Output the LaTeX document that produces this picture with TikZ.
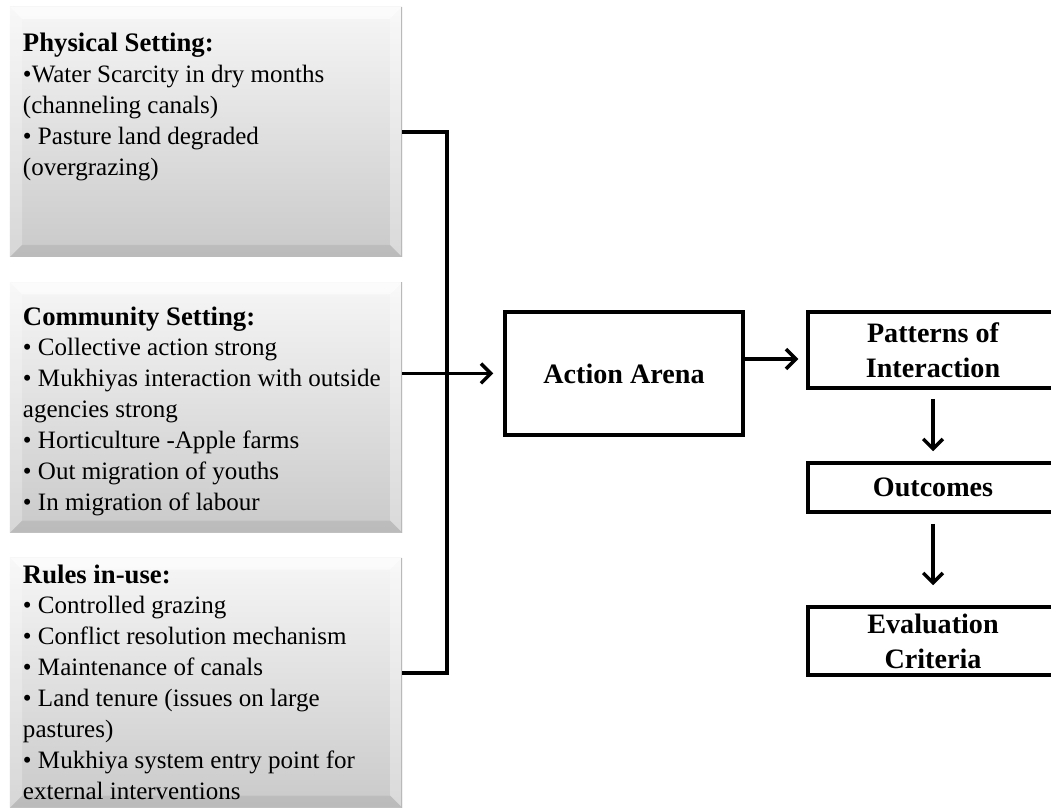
\documentclass[tikz,border=0pt]{standalone}
\usepackage{fontspec}
\setmainfont{Liberation Serif}
\usetikzlibrary{arrows.meta,calc}
\tikzset {>={Straight Barb[length=7pt,width=14pt]}}

\begin{document}
\begin{tikzpicture}[
  setting/.style={rectangle, minimum width=9.8cm, minimum height=6.25cm,
    top color=gray!7, bottom color=gray!42, inner sep=0pt,
    path picture={
      \coordinate (nw) at (path picture bounding box.north west);
      \coordinate (se) at (path picture bounding box.south east);
      \fill[white,opacity=.6] (nw) -- (nw -| se) -- ($(nw -| se)+(-.3,-.3)$) -- ($(nw)+(.3,-.3)$) -- cycle;
      \fill[white,opacity=.25] (nw) -- ($(nw)+(.3,-.3)$) -- ($(nw |- se)+(.3,.3)$) -- (nw |- se) -- cycle;
      \fill[white,opacity=.3] (nw -| se) -- (se) -- ($(se)+(-.3,.3)$) -- ($(nw -| se)+(-.3,-.3)$) -- cycle;
      \fill[black,opacity=.07] (se) -- (nw |- se) -- ($(nw |- se)+(.3,.3)$) -- ($(se)+(-.3,.3)$) -- cycle;
      \draw[gray!55,line width=1pt] (nw -| se) -- (se);
    }},
  items/.style={anchor=north west, inner sep=0pt, align=left,
    font=\fontsize{17.8}{22}\selectfont},
  stage/.style={draw, line width=2.5pt, align=center,
    font=\fontsize{20}{25}\selectfont\bfseries},
  conn/.style={line width=2.5pt}
]
\useasboundingbox (0,0) rectangle (26.275,20.2);

% Left column: settings
\node [setting] (phys)  at (5.15,16.9)    {};
\node [setting] (comm)  at (5.15,10.0125) {};
\node [setting] (rules) at (5.15,3.1375)  {};

\node [items] (phystext) at ($(phys.north west)+(.325,-.65)$)
  {{\fontsize{19}{22}\selectfont\bfseries Physical Setting:}\\
   •Water Scarcity in dry months\\
   (channeling canals)\\
   • Pasture land degraded\\
   (overgrazing)};
\node [items] (commtext) at ($(comm.north west)+(.325,-.6)$)
  {{\fontsize{19}{22}\selectfont\bfseries Community Setting:}\\
   • Collective action strong\\
   • Mukhiyas interaction with outside\\
   agencies strong\\
   • Horticulture -Apple farms\\
   • Out migration of youths\\
   • In migration of labour};
\node [items] (rulestext) at ($(rules.north west)+(.325,-.175)$)
  {{\fontsize{19}{22}\selectfont\bfseries Rules in-use:}\\
   • Controlled grazing\\
   • Conflict resolution mechanism\\
   • Maintenance of canals\\
   • Land tenure (issues on large\\
   pastures)\\
   • Mukhiya system entry point for\\
   external interventions};

% Right side: stages
\node [stage, minimum width=5.95cm, minimum height=3.075cm] (action)   at (15.6,10.8625)   {Action Arena};
\node [stage, minimum width=6.25cm, minimum height=1.9cm]   (patterns) at (23.325,11.45)   {Patterns of\\Interaction};
\node [stage, minimum width=6.25cm, minimum height=1.225cm] (outcomes) at (23.325,8.0125)  {Outcomes};
\node [stage, minimum width=6.25cm, minimum height=1.7cm]   (evaluation) at (23.325,4.175) {Evaluation\\Criteria};

% Bus joining physical setting and rules
\coordinate (bus) at (11.175,0);
\draw [conn] (phys.east) -- (phys.east -| bus) |- ([yshift=.24cm]rules.east);

% Arrows
\draw [conn,->] (comm.east |- action.west) -- ([xshift=-.25cm]action.west);
\draw [conn,->,shorten >=.2cm] ([yshift=.3625cm]action.east) -- ([yshift=.3625cm]action.east -| patterns.west);
\draw [conn,->,shorten <=.225cm,shorten >=.25cm] (patterns.south) -- (outcomes.north);
\draw [conn,->,shorten <=.25cm,shorten >=.5cm] (outcomes.south) -- (evaluation.north);
\end{tikzpicture}
\end{document}
